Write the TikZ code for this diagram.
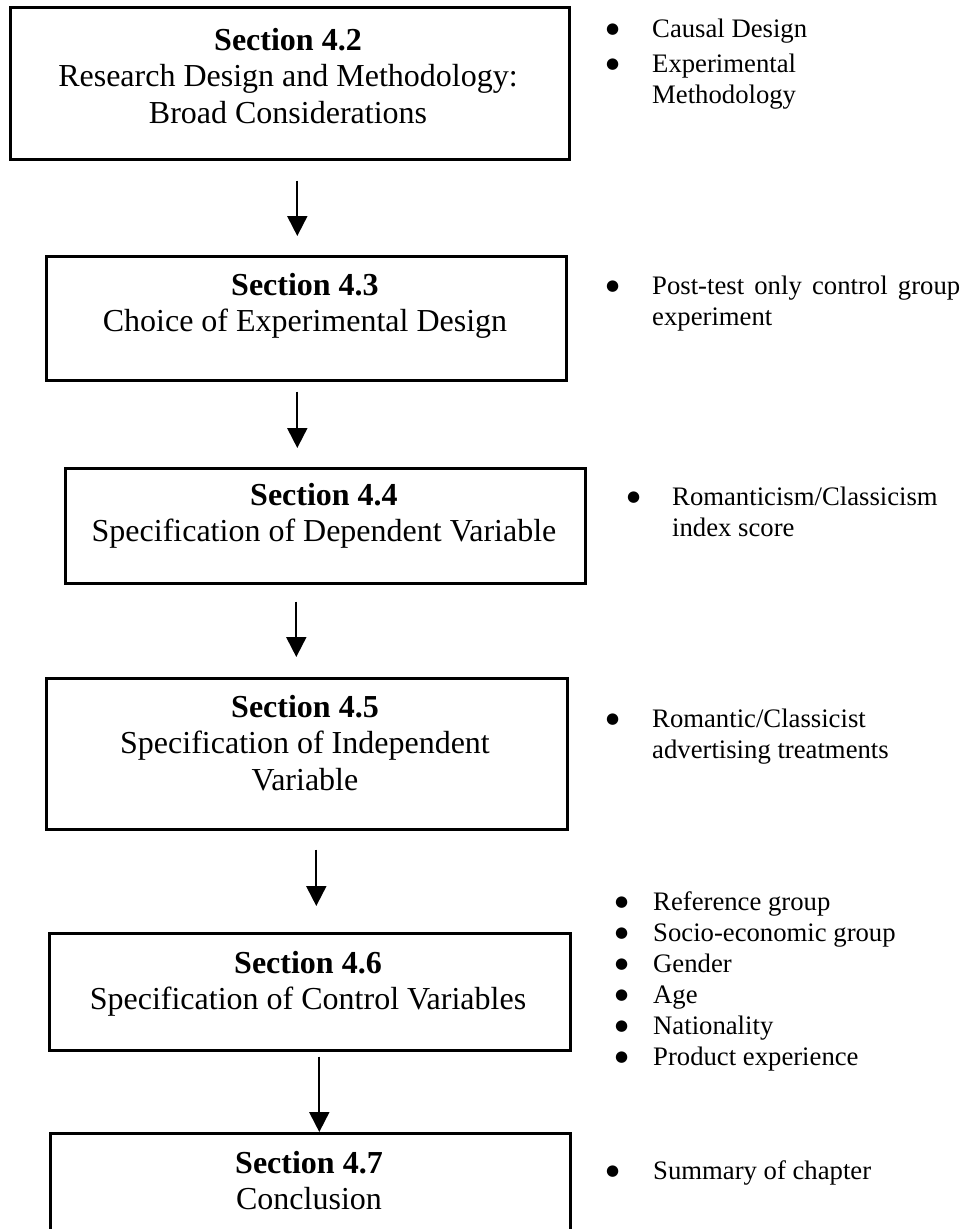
\documentclass[tikz,border=0pt]{standalone}
\usepackage{fontspec}
\setmainfont{Liberation Serif}
\newfontfamily\symfont{DejaVu Sans}
\usetikzlibrary{arrows.meta}
\newcommand\boxfont{\fontsize{32}{36.5}\selectfont}
\newcommand\listfont{\fontsize{26.7}{31}\selectfont}
% round list bullet, centred a little above the baseline
\newcommand\bul{\raisebox{4pt}{\symfont\fontsize{15}{15}\selectfont ●}}
% bullet list: #1 = width of the bullet column, #2 = rows
\newcommand\blist[2]{\begin{tabular}[t]{@{}p{#1}@{}l@{}}#2\end{tabular}}

\begin{document}
\begin{tikzpicture}[x=1pt,y=-1pt,
  box/.style={draw, line width=2.6pt, anchor=north west, inner sep=0pt},
  boxtext/.style={anchor=base, align=center, inner sep=0pt, font=\boxfont},
  arr/.style={line width=2pt, -{Triangle[length=20pt,width=20pt]}},
  blist/.style={anchor=base west, inner sep=0pt, font=\listfont}]
\clip (0,0) rectangle (974,1229);
\useasboundingbox (0,0) rectangle (974,1229);

% section boxes
\node[box, minimum width=559pt, minimum height=152pt] (b1) at (9,6) {};
\node[box, minimum width=520pt, minimum height=124pt] (b2) at (45,255) {};
\node[box, minimum width=520pt, minimum height=115pt] (b3) at (64,467) {};
\node[box, minimum width=521pt, minimum height=151pt] (b4) at (45,677) {};
\node[box, minimum width=521pt, minimum height=117pt] (b5) at (48,932) {};
\node[box, minimum width=520pt, minimum height=120pt] (b6) at (49,1132) {};

% box captions (placed by the baseline of their last line)
\node[boxtext] (t1) at (288,123) {\textbf{Section 4.2}\\Research Design and Methodology:\\Broad Considerations};
\node[boxtext] (t2) at (305,331.5) {\textbf{Section 4.3}\\Choice of Experimental Design};
\node[boxtext] (t3) at (324,541.5) {\textbf{Section 4.4}\\Specification of Dependent Variable};
\node[boxtext] (t4) at (305,790) {\textbf{Section 4.5}\\Specification of Independent\\Variable};
\node[boxtext] (t5) at (308,1009.5) {\textbf{Section 4.6}\\Specification of Control Variables};
\node[boxtext] (t6) at (309,1209.5) {\textbf{Section 4.7}\\Conclusion};

% flow arrows
\draw[arr] ([xshift=7.5pt,yshift=-20pt]b1.south) -- ([xshift=-9pt,yshift=19pt]b2.north);
\draw[arr] ([xshift=-9pt,yshift=-10pt]b2.south) -- ([xshift=-28pt,yshift=19pt]b3.north);
\draw[arr] ([xshift=-29pt,yshift=-17pt]b3.south) -- ([xshift=-10.5pt,yshift=20pt]b4.north);
\draw[arr] ([xshift=9.5pt,yshift=-19pt]b4.south) -- ([xshift=6.5pt,yshift=26pt]b5.north);
\draw[arr] ([xshift=9.5pt,yshift=-5pt]b5.south) -- ([xshift=9pt]b6.north);

% bullet notes
\node[blist] (n1) at (606,37) {\blist{46pt}{\bul & Causal Design}};
\node[blist] (n2) at (606,72) {\blist{46pt}{\bul & Experimental\\ & Methodology}};
\node[blist] (n3) at (606,294) {\blist{46pt}{\bul & \makebox[308pt][s]{Post-test only control group}\\ & experiment}};
\node[blist] (n4) at (627,505) {\blist{45pt}{\bul & Romanticism/Classicism\\ & index score}};
\node[blist] (n5) at (606,727) {\blist{46pt}{\bul & Romantic/Classicist\\ & advertising treatments}};
\node[blist] (n6) at (615,910) {\blist{38pt}{\bul & Reference group\\ \bul & Socio-economic group\\ \bul & Gender\\ \bul & Age\\ \bul & Nationality\\ \bul & Product experience}};
\node[blist] (n7) at (606,1179) {\blist{47pt}{\bul & Summary of chapter}};
\end{tikzpicture}
\end{document}
